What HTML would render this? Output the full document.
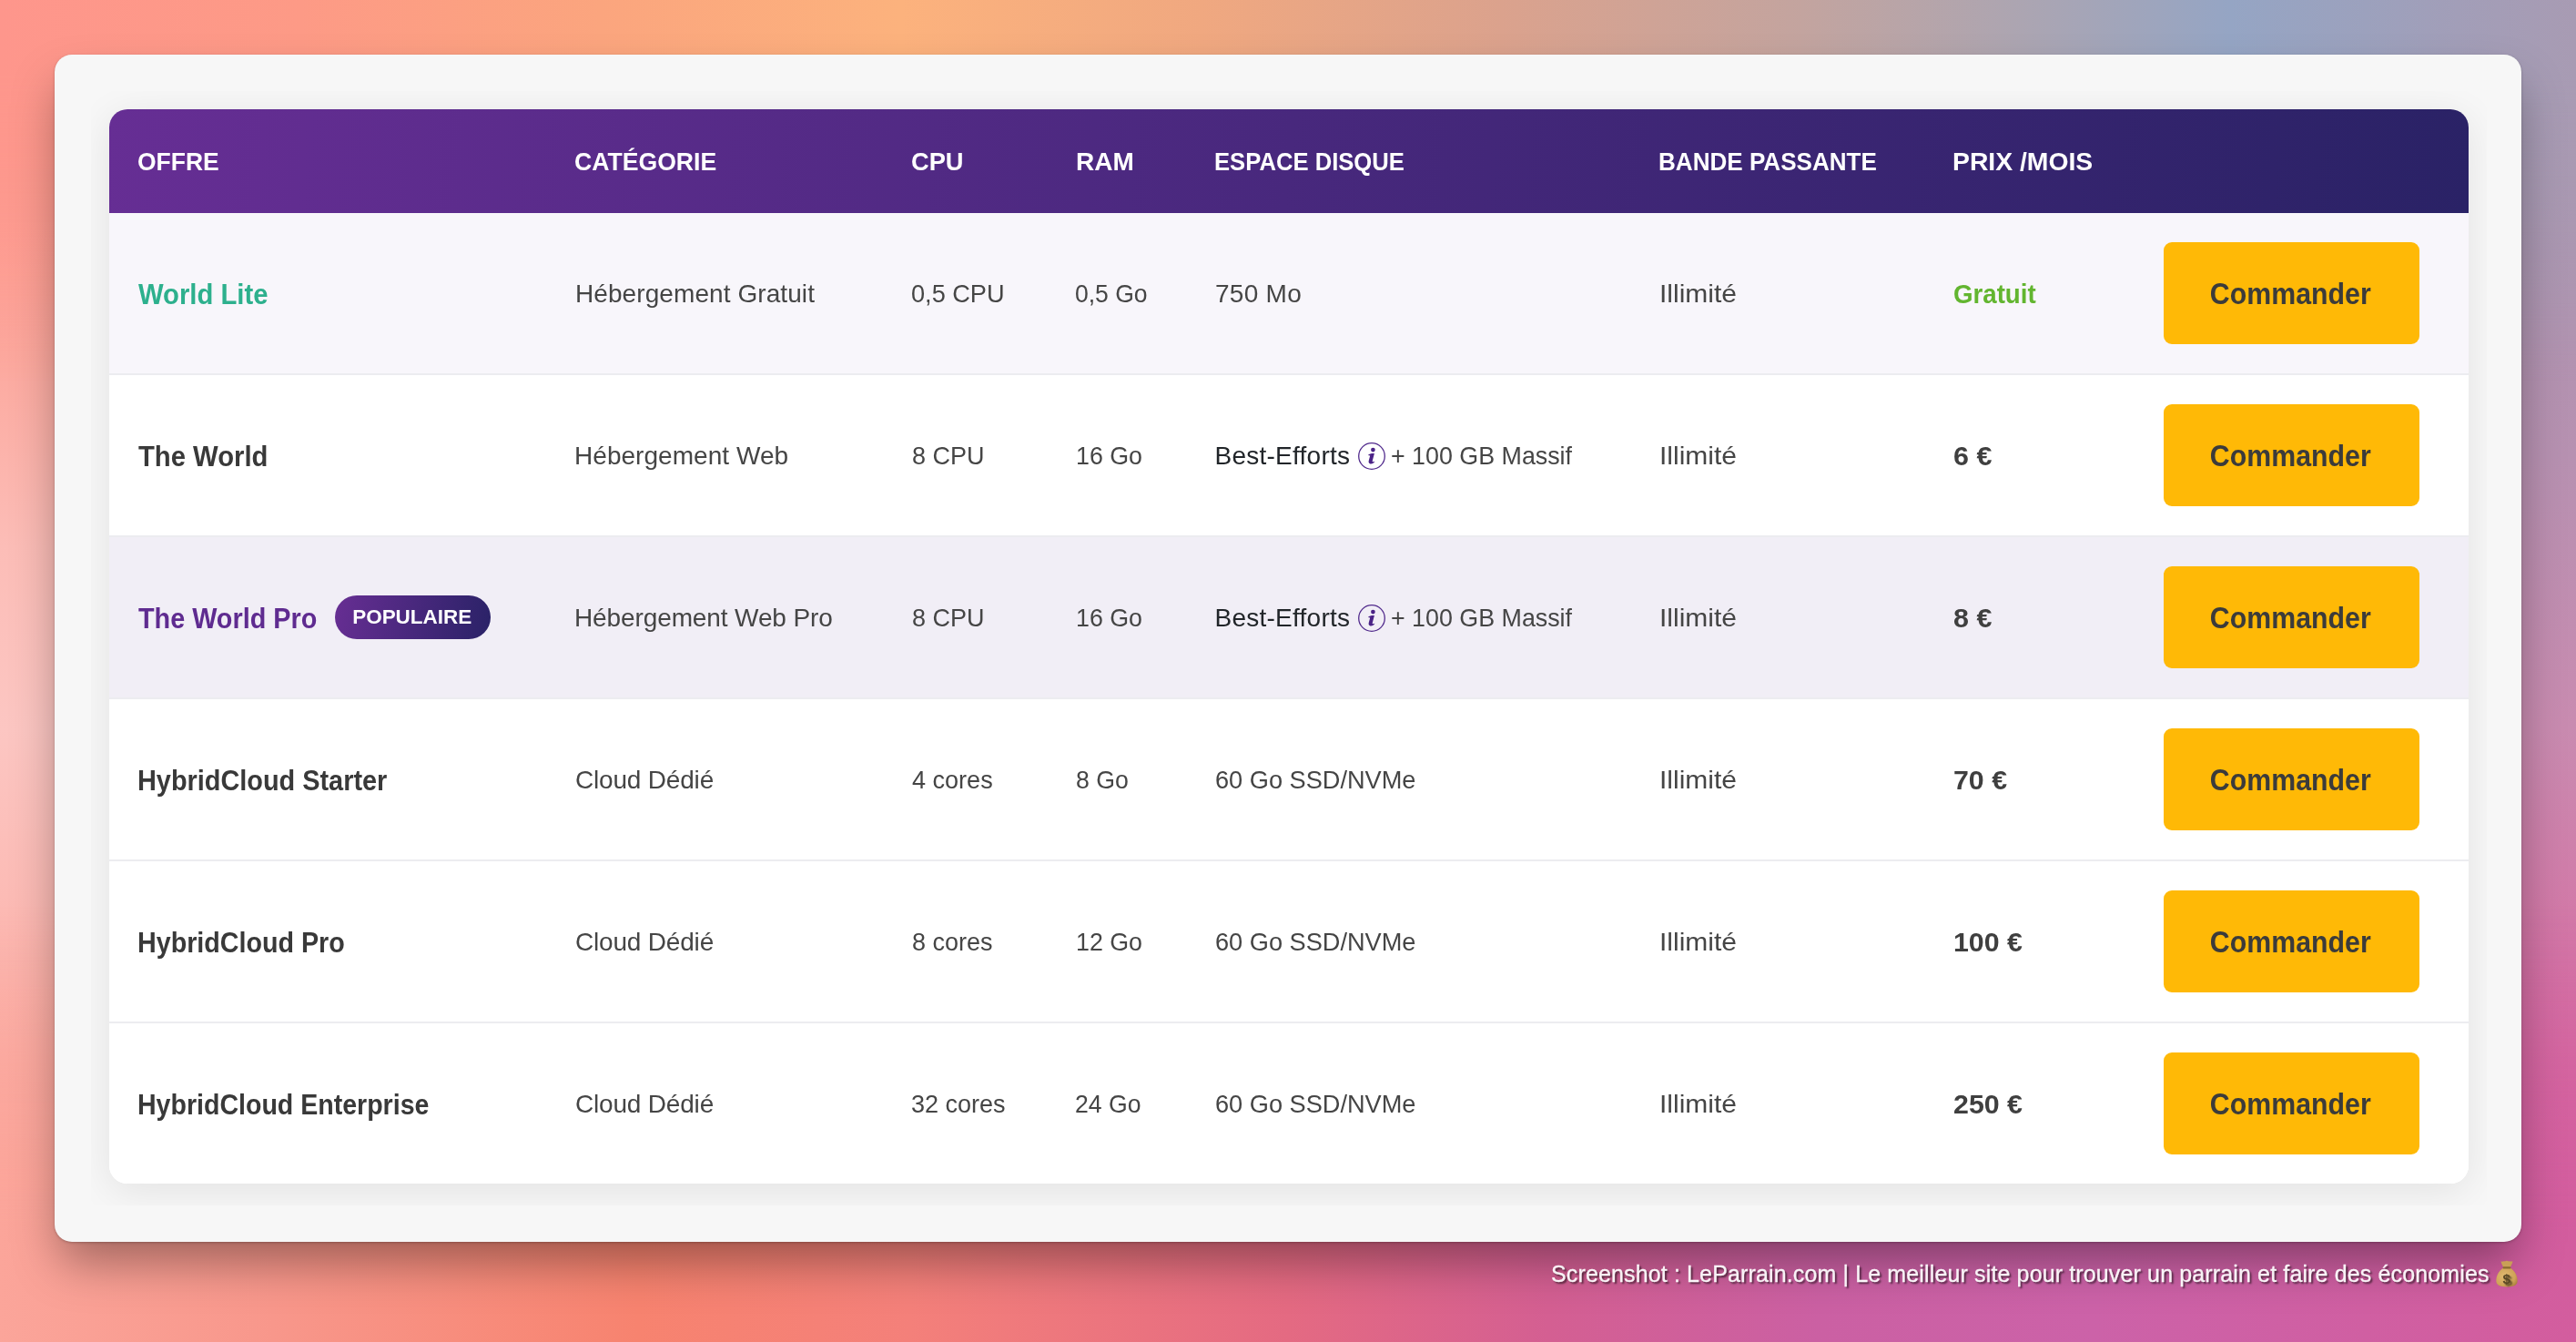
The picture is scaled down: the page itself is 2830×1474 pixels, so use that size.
<!DOCTYPE html>
<html lang="fr"><head><meta charset="utf-8"><title>Offres</title>
<style>
*{margin:0;padding:0;box-sizing:border-box}
html,body{width:2830px;height:1474px;overflow:hidden}
body{position:relative;font-family:"Liberation Sans",sans-serif;background:#e48c90}
.bg{position:absolute;left:0;top:0;width:2830px;height:1474px}
.bgR{background:linear-gradient(to bottom,#a89bb3 0px,#ab95af 200px,#b791b1 500px,#c98bb0 800px,#d27aa8 1000px,#d66aa1 1200px,#d35e9e 1474px)}
.bgL{background:linear-gradient(to bottom,#fd968b 0px,#fd9c90 200px,#fcaaa0 400px,#fcbdb7 600px,#fcc6c2 800px,#fcbab4 1000px,#fbaaa1 1200px,#fba397 1474px);
 -webkit-mask-image:linear-gradient(to right,#000 0px,#000 80px,rgba(0,0,0,0) 2700px);mask-image:linear-gradient(to right,#000 0px,#000 80px,rgba(0,0,0,0) 2700px)}
.bgT{background:linear-gradient(to right,#fe968c 0px,#fd9a86 330px,#fba57e 660px,#fcb27d 990px,#f0a880 1320px,#dba28d 1650px,#c3a49f 1980px,#aea5b0 2200px,#95a5c4 2450px,#9ca1bd 2600px,#a29eb8 2700px,#a89bb3 2830px);
 -webkit-mask-image:linear-gradient(to bottom,#000 0px,#000 70px,rgba(0,0,0,0) 420px);mask-image:linear-gradient(to bottom,#000 0px,#000 70px,rgba(0,0,0,0) 420px)}
.bgB{background:linear-gradient(to right,#fba59a 0px,#f8978b 300px,#f7836f 700px,#f4807a 1000px,#e46a82 1415px,#d45f92 1700px,#cb60a3 2000px,#cc62a8 2300px,#d05fa2 2600px,#d35d9e 2830px);
 -webkit-mask-image:linear-gradient(to top,#000 0px,#000 120px,rgba(0,0,0,0) 480px);mask-image:linear-gradient(to top,#000 0px,#000 120px,rgba(0,0,0,0) 480px)}
.card{position:absolute;left:60px;top:60px;width:2710px;height:1304px;background:#f7f7f7;border-radius:19px;
 box-shadow:0 1px 3px rgba(0,0,0,.22),0 28px 52px -6px rgba(0,0,0,.36)}
.tbl{will-change:transform;position:absolute;left:120px;top:120px;width:2592px;height:1180px;border-radius:20px;overflow:hidden;background:#fff}
.shclip{position:absolute;left:100px;top:100px;width:2632px;height:1224px;overflow:hidden}
.tblsh{position:absolute;left:20px;top:20px;width:2592px;height:1180px;border-radius:20px;box-shadow:0 8px 44px rgba(0,0,0,.085)}
.hd{position:absolute;left:0;top:0;width:2592px;height:114px;background:linear-gradient(97deg,#662e94 0%,#2a2266 100%)}
.row{position:absolute;left:0;width:2592px;height:178px;border-bottom:2px solid #ececf0}
.row.last{height:176px;border-bottom:none}
.c{position:absolute;top:0;white-space:nowrap;transform-origin:0 50%;line-height:178px;font-size:28px;color:#454545}
.hd .c{line-height:116px;font-weight:bold;color:#fff;font-size:28px}
.n{font-weight:bold;font-size:31px;color:#393939;line-height:179px}
.green{color:#2db08d}
.purple{color:#5f2b90}
.p{font-weight:bold;font-size:29px;color:#3f3f3f}
.pgreen{color:#62b52f}
.dk{color:#212529}
.btn{position:absolute;left:2257px;top:32px;width:281px;height:112px;border-radius:9px;background:#ffb906;color:#3b3b3b;font-weight:bold;font-size:33px;line-height:114px;text-align:center;white-space:nowrap}
.badge{position:absolute;left:248px;top:64px;width:171px;height:48px;border-radius:24px;background:linear-gradient(100deg,#672e93 0%,#2a2267 100%);color:#fff;font-weight:bold;font-size:21.5px;line-height:49px;text-align:center;white-space:nowrap}
.ib{display:inline-block;position:relative}
.info{position:absolute;top:72px}
.wm{will-change:transform;position:absolute;right:63.8px;top:1379px;height:40px;line-height:40px;font-size:25px;color:rgba(255,255,255,.93);-webkit-text-stroke:0.3px rgba(255,255,255,.9);white-space:nowrap;text-shadow:2px 2px 2px rgba(0,0,0,.6)}
.wm svg{vertical-align:-7px;margin-left:6px}
</style></head><body>
<div class="bg bgR"></div><div class="bg bgL"></div><div class="bg bgT"></div><div class="bg bgB"></div>
<div class="card"></div>
<div class="shclip"><div class="tblsh"></div></div>
<div class="tbl">
<div class="hd">
<span class="c h" style="left:31.20px;transform:scaleX(0.9448);">OFFRE</span>
<span class="c h" style="left:511.20px;transform:scaleX(0.9502);">CATÉGORIE</span>
<span class="c h" style="left:880.80px;transform:scaleX(0.9730);">CPU</span>
<span class="c h" style="left:1061.60px;transform:scaleX(1.0002);">RAM</span>
<span class="c h" style="left:1214.00px;transform:scaleX(0.9155);">ESPACE DISQUE</span>
<span class="c h" style="left:1702.00px;transform:scaleX(0.9306);">BANDE PASSANTE</span>
<span class="c h" style="left:2025.40px;transform:scaleX(1.0118);">PRIX /MOIS</span>
</div>
<div class="row" style="top:114px;background:#f8f6fb">
<span class="c n green" style="left:32.10px;transform:scaleX(0.9436);">World Lite</span>
<span class="c r" style="left:512.00px;letter-spacing:0.081px;">Hébergement Gratuit</span>
<span class="c r" style="left:880.50px;transform:scaleX(0.9693);">0,5 CPU</span>
<span class="c r" style="left:1060.50px;transform:scaleX(0.9472);">0,5 Go</span>
<span class="c r" style="left:1215.00px;letter-spacing:0.281px;">750 Mo</span>
<span class="c r" style="left:1702.50px;transform:scaleX(1.0714);">Illimité</span>
<span class="c p pgreen" style="left:2026.40px;transform:scaleX(0.9537);">Gratuit</span>
<span class="btn"><span class="ib" style="transform:scaleX(0.9183);left:-1.00px">Commander</span></span>
</div>
<div class="row" style="top:292px;background:#ffffff">
<span class="c n" style="left:31.70px;transform:scaleX(0.9432);">The World</span>
<span class="c r" style="left:511.00px;letter-spacing:0.045px;">Hébergement Web</span>
<span class="c r" style="left:881.50px;transform:scaleX(0.9638);">8 CPU</span>
<span class="c r" style="left:1062.00px;transform:scaleX(0.9569);">16 Go</span>
<span class="c r dk" style="left:1214.50px;letter-spacing:0.248px;">Best-Efforts</span>
<svg class="info" style="left:1370px" width="34" height="34" viewBox="0 0 34 34"><circle cx="17" cy="17" r="14.3" fill="none" stroke="#512a8c" stroke-width="1.3"/><circle cx="18.4" cy="10.1" r="2.35" fill="#4b2387"/><path d="M12.9 15.9 C14.4 14.4 16.6 14.0 19.9 14.1 L17.8 21.9 C17.5 23.2 18.0 23.6 20.3 22.8 C19.4 25.1 17.1 25.7 15.3 25.4 C13.6 25.0 13.3 23.6 13.8 21.8 L15.2 16.6 C14.5 16.3 13.7 16.2 12.9 15.9 Z" fill="#4b2387"/></svg>
<span class="c r" style="left:1408.30px;transform:scaleX(0.9580);">+ 100 GB Massif</span>
<span class="c r" style="left:1702.50px;transform:scaleX(1.0714);">Illimité</span>
<span class="c p" style="left:2026.00px;transform:scaleX(1.0506);">6 €</span>
<span class="btn"><span class="ib" style="transform:scaleX(0.9183);left:-1.00px">Commander</span></span>
</div>
<div class="row" style="top:470px;background:#f1eef6">
<span class="c n purple" style="left:31.70px;transform:scaleX(0.9288);">The World Pro</span>
<span class="badge"><span class="ib" style="letter-spacing:0.000px;transform:scaleX(1.0450);left:-0.80px">POPULAIRE</span></span>
<span class="c r" style="left:511.00px;letter-spacing:-0.111px;">Hébergement Web Pro</span>
<span class="c r" style="left:881.50px;transform:scaleX(0.9638);">8 CPU</span>
<span class="c r" style="left:1062.00px;transform:scaleX(0.9569);">16 Go</span>
<span class="c r dk" style="left:1214.50px;letter-spacing:0.248px;">Best-Efforts</span>
<svg class="info" style="left:1370px" width="34" height="34" viewBox="0 0 34 34"><circle cx="17" cy="17" r="14.3" fill="none" stroke="#512a8c" stroke-width="1.3"/><circle cx="18.4" cy="10.1" r="2.35" fill="#4b2387"/><path d="M12.9 15.9 C14.4 14.4 16.6 14.0 19.9 14.1 L17.8 21.9 C17.5 23.2 18.0 23.6 20.3 22.8 C19.4 25.1 17.1 25.7 15.3 25.4 C13.6 25.0 13.3 23.6 13.8 21.8 L15.2 16.6 C14.5 16.3 13.7 16.2 12.9 15.9 Z" fill="#4b2387"/></svg>
<span class="c r" style="left:1408.30px;transform:scaleX(0.9580);">+ 100 GB Massif</span>
<span class="c r" style="left:1702.50px;transform:scaleX(1.0714);">Illimité</span>
<span class="c p" style="left:2026.00px;transform:scaleX(1.0500);">8 €</span>
<span class="btn"><span class="ib" style="transform:scaleX(0.9183);left:-1.00px">Commander</span></span>
</div>
<div class="row" style="top:648px;background:#ffffff">
<span class="c n" style="left:30.80px;transform:scaleX(0.9314);">HybridCloud Starter</span>
<span class="c r" style="left:512.00px;letter-spacing:-0.189px;">Cloud Dédié</span>
<span class="c r" style="left:882.00px;transform:scaleX(0.9654);">4 cores</span>
<span class="c r" style="left:1062.00px;transform:scaleX(0.9521);">8 Go</span>
<span class="c r" style="left:1215.00px;transform:scaleX(0.9703);">60 Go SSD/NVMe</span>
<span class="c r" style="left:1702.50px;transform:scaleX(1.0714);">Illimité</span>
<span class="c p" style="left:2026.00px;transform:scaleX(1.0450);">70 €</span>
<span class="btn"><span class="ib" style="transform:scaleX(0.9183);left:-1.00px">Commander</span></span>
</div>
<div class="row" style="top:826px;background:#ffffff">
<span class="c n" style="left:30.80px;transform:scaleX(0.9244);">HybridCloud Pro</span>
<span class="c r" style="left:512.00px;letter-spacing:-0.189px;">Cloud Dédié</span>
<span class="c r" style="left:881.50px;transform:scaleX(0.9638);">8 cores</span>
<span class="c r" style="left:1062.00px;transform:scaleX(0.9569);">12 Go</span>
<span class="c r" style="left:1215.00px;transform:scaleX(0.9703);">60 Go SSD/NVMe</span>
<span class="c r" style="left:1702.50px;transform:scaleX(1.0714);">Illimité</span>
<span class="c p" style="left:2026.00px;transform:scaleX(1.0450);">100 €</span>
<span class="btn"><span class="ib" style="transform:scaleX(0.9183);left:-1.00px">Commander</span></span>
</div>
<div class="row last" style="top:1004px;background:#ffffff">
<span class="c n" style="left:31.00px;transform:scaleX(0.9209);">HybridCloud Enterprise</span>
<span class="c r" style="left:512.00px;letter-spacing:-0.189px;">Cloud Dédié</span>
<span class="c r" style="left:881.30px;transform:scaleX(0.9650);">32 cores</span>
<span class="c r" style="left:1061.40px;transform:scaleX(0.9500);">24 Go</span>
<span class="c r" style="left:1215.00px;transform:scaleX(0.9703);">60 Go SSD/NVMe</span>
<span class="c r" style="left:1702.50px;transform:scaleX(1.0714);">Illimité</span>
<span class="c p" style="left:2025.50px;transform:scaleX(1.0473);">250 €</span>
<span class="btn"><span class="ib" style="transform:scaleX(0.9183);left:-1.00px">Commander</span></span>
</div>
</div>
<div class="wm" style="letter-spacing:0.136px"><span>Screenshot : LeParrain.com | Le meilleur site pour trouver un parrain et faire des économies</span><svg width="26" height="32" viewBox="0 0 26 32"><defs><radialGradient id="bg1" cx="40%" cy="45%" r="70%"><stop offset="0" stop-color="#e2bb72"/><stop offset="0.7" stop-color="#cfa358"/><stop offset="1" stop-color="#a67c3a"/></radialGradient></defs><path d="M6.5 2.2 C8 3.4 9.4 1.6 10.8 2.6 C12 1.4 13.8 1.4 15 2.6 C16.4 1.6 18 3.2 19.5 2.2 C19 5 17.6 7.4 16.6 9 L9.4 9 C8.4 7.4 7 5 6.5 2.2 Z" fill="#c99f56"/><path d="M9.2 9.6 L16.8 9.6 C22.5 13.2 25 19.5 24.6 24.6 C24.3 28.6 21.2 30.4 13 30.4 C4.8 30.4 1.7 28.6 1.4 24.6 C1 19.5 3.5 13.2 9.2 9.6 Z" fill="url(#bg1)"/><rect x="8.6" y="8.2" width="8.8" height="2.4" rx="1.2" fill="#8a6a30"/><text x="13" y="26.6" text-anchor="middle" font-family="Liberation Sans" font-weight="bold" font-size="15.5" fill="#5a4724">$</text></svg></div>
</body></html>
